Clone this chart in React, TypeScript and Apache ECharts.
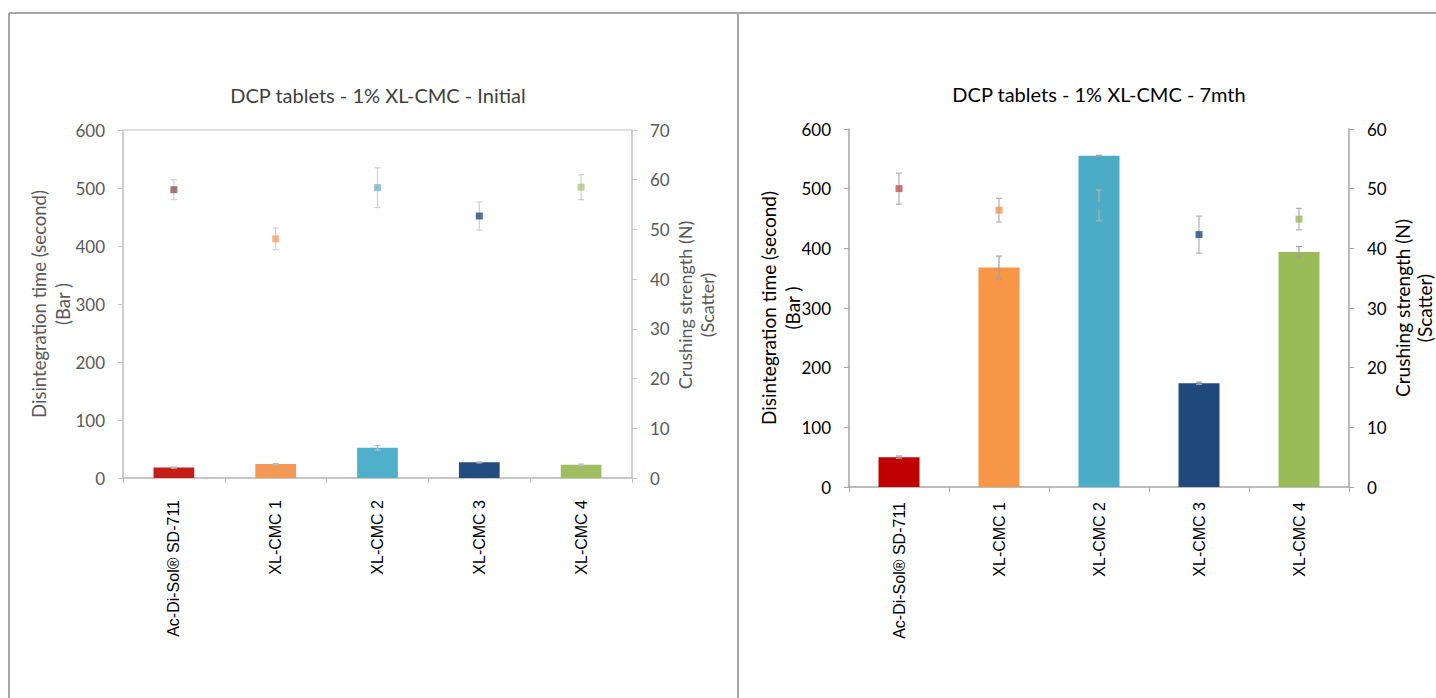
import React, { useEffect, useRef } from "react";
import * as echarts from "echarts";

const categories = ["Ac-Di-Sol® SD-711", "XL-CMC 1", "XL-CMC 2", "XL-CMC 3", "XL-CMC 4"];

// Initial
const initialDisintegration = [18, 24, 52, 27, 23];
const initialDisintegrationErr = [1, 1, 4, 1, 1];
const initialCrushing = [58, 48.1, 58.4, 52.7, 58.5];
const initialCrushingErr = [2, 2.2, 4, 2.8, 2.5];

// 7 months
const mth7Disintegration = [50, 368, 555, 174, 394];
const mth7DisintegrationErr = [2, 19, 1, 2, 9];
const mth7Crushing = [50, 46.4, 47.2, 42.3, 44.9];
const mth7CrushingErr = [2.6, 2.0, 2.6, 3.1, 1.8];

const leftTicks = { min: 0, max: 600, interval: 100 };
const rightTicksInitial = { min: 0, max: 70, interval: 10 };
const rightTicks7 = { min: 0, max: 60, interval: 10 };

const leftAxisName = ["Disintegration time (second)", "(Bar )"];
const rightAxisName = ["Crushing strength (N)", "(Scatter)"];

const barColors = ["#C00000", "#F79646", "#4BACC6", "#1F497D", "#9BBB59"];
const barColorsInit = ["#C41E1A", "#F29A55", "#4FB0CC", "#234D7E", "#A0BD62"];
const markerColors7 = ["#C0504D", "#F79646", "#4BACC6", "#1F497D", "#9BBB59"];
const markerColorsInit = ["#8E5259", "#F0A46C", "#7CB2C6", "#264C7A", "#B0C47E"];

const FONT = "Lato";

function errorSeries(values: number[], errs: number[], xAxisIndex: number, yAxisIndex: number, color: string, z: number) {
  return {
    type: "custom",
    xAxisIndex,
    yAxisIndex,
    z,
    silent: true,
    encode: { x: 0, y: 1 },
    data: values.map((v, i) => [i, v, errs[i]]),
    renderItem: (params: any, api: any) => {
      const x = api.value(0);
      const y = api.value(1);
      const e = api.value(2);
      const top = api.coord([x, y + e]);
      const bot = api.coord([x, y - e]);
      const hw = 3;
      const style = { stroke: color, lineWidth: 1.2 };
      return {
        type: "group",
        children: [
          { type: "line", shape: { x1: top[0], y1: top[1], x2: bot[0], y2: bot[1] }, style },
          { type: "line", shape: { x1: top[0] - hw, y1: top[1], x2: top[0] + hw, y2: top[1] }, style },
          { type: "line", shape: { x1: bot[0] - hw, y1: bot[1], x2: bot[0] + hw, y2: bot[1] }, style },
        ],
      };
    },
  };
}

function yAxis(gridIndex: number, position: string, ticks: any, color: string, lineColor: string) {
  return {
    type: "value",
    gridIndex,
    position,
    min: ticks.min,
    max: ticks.max,
    interval: ticks.interval,
    axisLine: { show: true, lineStyle: { color: lineColor, width: 1.5 } },
    axisTick: { show: true, length: 5, lineStyle: { color: lineColor } },
    axisLabel: { color, fontFamily: FONT, fontSize: 17, margin: 18 },
    splitLine: { show: false },
  };
}

function xAxis(gridIndex: number, lineColor: string, margin: number) {
  return {
    type: "category",
    gridIndex,
    data: categories,
    axisLine: { show: true, lineStyle: { color: lineColor, width: 1.5 } },
    axisTick: { show: true, length: 5, lineStyle: { color: lineColor } },
    axisLabel: {
      rotate: 90,
      interval: 0,
      margin,
      color: "#000",
      fontFamily: "Liberation Sans",
      fontSize: 16,
    },
    splitLine: { show: false },
  };
}

function axisTitle(lines: string[], xs: number[], y: number, color: string, size: number) {
  return lines.map((t, i) => ({
    type: "text",
    x: xs[i],
    y,
    rotation: Math.PI / 2,
    style: {
      text: t,
      fill: color,
      font: size + "px " + FONT,
      align: "center",
      verticalAlign: "middle",
      textAlign: "center",
      textVerticalAlign: "middle",
    },
  }));
}

export default function App() {
  const ref = useRef<HTMLDivElement>(null);
  useEffect(() => {
    if (!ref.current) return;
    const chart = echarts.init(ref.current, undefined, { renderer: "svg" });
    const option: any = {
      animation: false,
      backgroundColor: "#fff",
      title: [
        {
          text: "DCP tablets - 1% XL-CMC - Initial",
          left: 373,
          top: 80,
          textAlign: "center",
          textStyle: { color: "#404040", fontFamily: FONT, fontSize: 20, fontWeight: "normal" },
        },
        {
          text: "DCP tablets - 1% XL-CMC - 7mth",
          left: 1094,
          top: 79,
          textAlign: "center",
          textStyle: { color: "#000", fontFamily: FONT, fontSize: 20, fontWeight: "normal" },
        },
      ],
      grid: [
        { left: 123, top: 130, width: 509, height: 348, show: true, borderColor: "#D6D6D6", borderWidth: 1.5, backgroundColor: "transparent" },
        { left: 849, top: 129, width: 500, height: 358 },
      ],
      xAxis: [xAxis(0, "#BFBFBF", 22), xAxis(1, "#A6A6A6", 15)],
      yAxis: [
        yAxis(0, "left", leftTicks, "#595959", "#C8C8C8"),
        yAxis(0, "right", rightTicksInitial, "#595959", "#C8C8C8"),
        yAxis(1, "left", leftTicks, "#000", "#A6A6A6"),
        yAxis(1, "right", rightTicks7, "#000", "#A6A6A6"),
      ],
      graphic: [
        { type: "line", shape: { x1: 9, y1: 13, x2: 1436, y2: 13 }, style: { stroke: "#A6A6A6", lineWidth: 2 } },
        { type: "line", shape: { x1: 9, y1: 13, x2: 9, y2: 698 }, style: { stroke: "#A6A6A6", lineWidth: 2 } },
        { type: "line", shape: { x1: 738, y1: 13, x2: 738, y2: 698 }, style: { stroke: "#A6A6A6", lineWidth: 2 } },
        ...axisTitle(leftAxisName, [39, 63], 304, "#595959", 18.5),
        ...axisTitle(rightAxisName, [685, 707], 305, "#595959", 18),
        ...axisTitle(leftAxisName, [768, 792], 308, "#000", 19),
        ...axisTitle(rightAxisName, [1402, 1424], 308, "#000", 19),
      ],
      series: [
        {
          type: "bar",
          xAxisIndex: 0,
          yAxisIndex: 0,
          barWidth: "40%",
          z: 2,
          data: initialDisintegration.map((v, i) => ({ value: v, itemStyle: { color: barColorsInit[i] } })),
        },
        errorSeries(initialDisintegration, initialDisintegrationErr, 0, 0, "#BDBDBD", 3),
        errorSeries(initialCrushing, initialCrushingErr, 0, 1, "#CFCFCF", 3),
        {
          type: "scatter",
          xAxisIndex: 0,
          yAxisIndex: 1,
          symbol: "rect",
          symbolSize: 7,
          z: 4,
          data: initialCrushing.map((v, i) => ({ value: v, itemStyle: { color: markerColorsInit[i] } })),
        },
        {
          type: "bar",
          xAxisIndex: 1,
          yAxisIndex: 2,
          barWidth: "41%",
          z: 2,
          data: mth7Disintegration.map((v, i) => ({ value: v, itemStyle: { color: barColors[i] } })),
        },
        errorSeries(mth7Disintegration, mth7DisintegrationErr, 1, 2, "#A0A0A0", 3),
        errorSeries(mth7Crushing, mth7CrushingErr, 1, 3, "#B0B0B0", 3),
        {
          type: "scatter",
          xAxisIndex: 1,
          yAxisIndex: 3,
          symbol: "rect",
          symbolSize: 7,
          z: 4,
          data: mth7Crushing.map((v, i) => ({ value: v, itemStyle: { color: markerColors7[i] } })),
        },
      ],
    };
    chart.setOption(option);
    return () => chart.dispose();
  }, []);
  return <div ref={ref} style={{ position: "fixed", left: 0, top: 0, width: 1436, height: 698 }} />;
}
